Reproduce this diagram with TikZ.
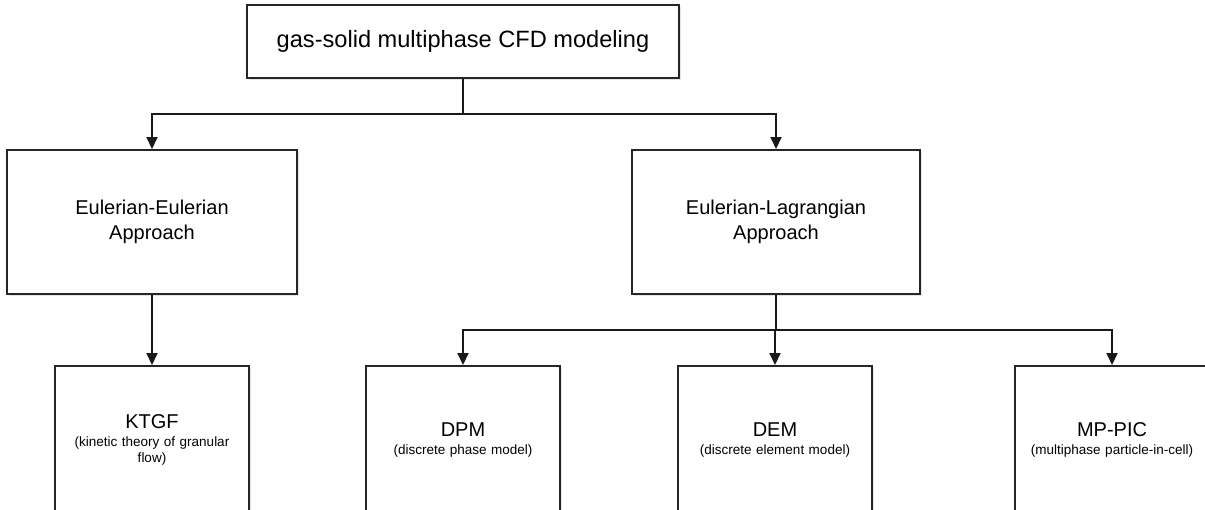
\documentclass[tikz,border=0pt]{standalone}
\usepackage{fontspec}
\setmainfont{Liberation Sans}
\usetikzlibrary{arrows.meta,shadows}
\begin{document}
\begin{tikzpicture}[x=1pt,y=-1pt,
  box/.style={draw=black!85,line width=2pt,fill=white,inner sep=2pt,align=center,
    drop shadow={shadow xshift=2pt,shadow yshift=-2pt,opacity=0.10,fill=black}},
  link/.style={draw=black!90,line width=2pt},
  arr/.style={link,-{Triangle[length=12pt,width=11pt]}},
  sub/.style={font=\fontsize{13.5}{16}\selectfont}]
\useasboundingbox[fill=white] (0,0) rectangle (1205,509);

% root
\node[box,minimum width=432pt,minimum height=73pt,font=\fontsize{23.6}{28}\selectfont]
  (root) at (463,41.5) {gas-solid multiphase CFD modeling};

% approaches
\node[box,minimum width=290pt,minimum height=144pt,font=\fontsize{20}{24.5}\selectfont]
  (ee) at (152,222) {Eulerian-Eulerian\\Approach};
\node[box,minimum width=288pt,minimum height=144pt,font=\fontsize{20}{24.5}\selectfont]
  (el) at (776,222) {Eulerian-Lagrangian\\Approach};

% models
\node[box,sub,minimum width=194pt,minimum height=148pt,text width=175pt]
  (ktgf) at (152,440) {{\fontsize{20}{20}\selectfont KTGF}\\[2pt](kinetic theory of granular\\flow)};
\node[box,sub,minimum width=194pt,minimum height=148pt,text width=175pt]
  (dpm) at (463,440) {{\fontsize{20}{20}\selectfont DPM}\\[2pt](discrete phase model)};
\node[box,sub,minimum width=194pt,minimum height=148pt,text width=175pt]
  (dem) at (775,440) {{\fontsize{20}{20}\selectfont DEM}\\[2pt](discrete element model)};
\node[box,sub,minimum width=194pt,minimum height=148pt,text width=180pt]
  (mppic) at (1112,440) {{\fontsize{20}{20}\selectfont MP-PIC}\\[2pt](multiphase particle-in-cell)};

% connectors
\coordinate (s1) at (463,114);
\coordinate (s2) at (776,330);
\draw[link] (root.south) -- (s1);
\draw[arr] (s1) -| (ee.north);
\draw[arr] (s1) -| (el.north);
\draw[arr] (ee.south) -- (ktgf.north);
\draw[link] (el.south) -- (s2);
\draw[arr] (s2) -| (dpm.north);
\draw[arr] (s2) -| (dem.north);
\draw[arr] (s2) -| (mppic.north);
\end{tikzpicture}
\end{document}
